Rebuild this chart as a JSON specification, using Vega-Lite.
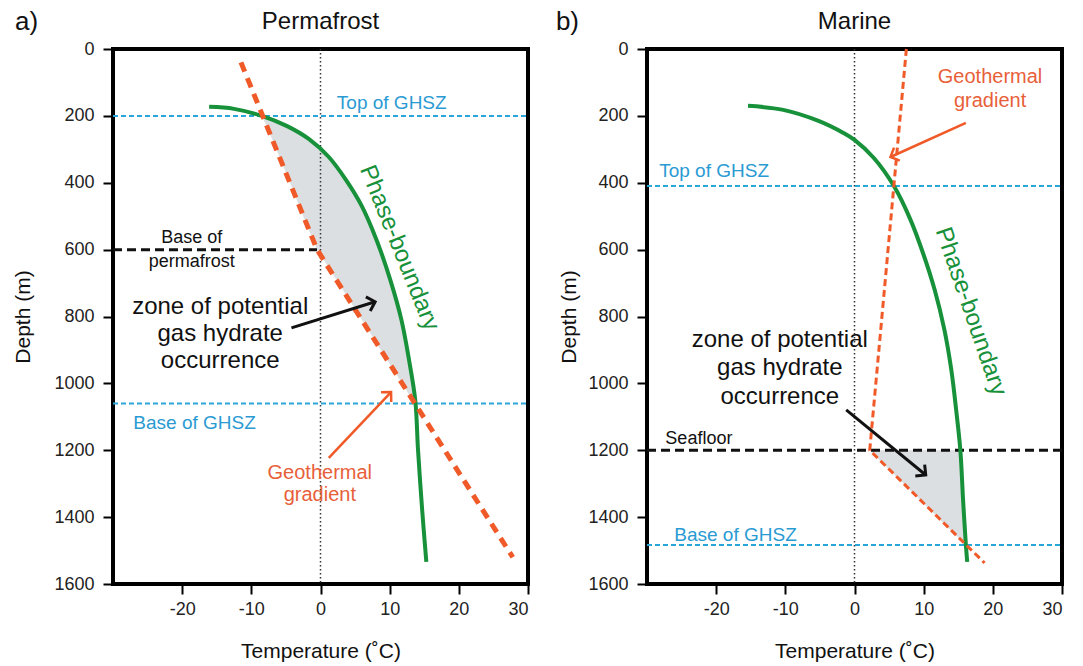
{
  "$schema": "https://vega.github.io/schema/vega-lite/v6.json",
  "padding": {"left": 10, "top": 6, "right": 8, "bottom": 2},
  "config": {
    "font": "Liberation Sans",
    "view": {"stroke": "black", "strokeWidth": 4},
    "axis": {"domain": false, "grid": false, "ticks": true, "tickColor": "black", "tickWidth": 2, "tickSize": 10, "labelFontSize": 18, "labelColor": "#222", "titleFontSize": 21, "titleFontWeight": "normal", "titleColor": "#111", "labelFont": "Liberation Sans", "titleFont": "Liberation Sans"},
    "concat": {"spacing": 22}
  },
  "hconcat": [
    {
      "width": 415, "height": 535,
      "encoding": {
        "x": {"field": "t", "type": "quantitative", "scale": {"domain": [-30, 30], "nice": false, "zero": false}, "axis": {"title": "Temperature (˚C)", "values": [-20, -10, 0, 10, 20, 30], "labelExpr": "datum.value < 0 ? '-' + abs(datum.value) : '' + datum.value", "labelPadding": 6, "titlePadding": 22}},
        "y": {"field": "d", "type": "quantitative", "scale": {"domain": [0, 1600], "reverse": true, "nice": false, "zero": false}, "axis": {"title": "Depth (m)", "format": "d", "values": [0, 200, 400, 600, 800, 1000, 1200, 1400, 1600], "labelPadding": 9, "titlePadding": 20}}
      },
      "layer": [
        {"data": {"values": [
          {"d": 200, "t": -8.5, "t2": -8.5},
          {"d": 225, "t": -7.9, "t2": -5.5},
          {"d": 250, "t": -7.4, "t2": -3.3},
          {"d": 300, "t": -6.4, "t2": 0.0},
          {"d": 400, "t": -4.4, "t2": 3.9},
          {"d": 500, "t": -2.5, "t2": 6.6},
          {"d": 600, "t": -0.5, "t2": 8.6},
          {"d": 700, "t": 2.6, "t2": 10.2},
          {"d": 800, "t": 5.7, "t2": 11.6},
          {"d": 900, "t": 8.7, "t2": 12.5},
          {"d": 1000, "t": 11.8, "t2": 13.3},
          {"d": 1060, "t": 13.6, "t2": 13.7}
        ]},
         "mark": {"type": "area", "orient": "horizontal", "color": "#dcdfe2"},
         "encoding": {"x2": {"field": "t2"}}},
        {"data": {"values": [{"t": 0, "d": 0, "d2": 1600}]},
         "mark": {"type": "rule", "strokeDash": [1.5, 2.5], "strokeWidth": 1.5, "color": "#333"},
         "encoding": {"y2": {"field": "d2"}}},
        {"data": {"values": [{"t": -30, "t2": 30, "d": 200}, {"t": -30, "t2": 30, "d": 1060}]},
         "mark": {"type": "rule", "color": "#2aa6d9", "strokeWidth": 2, "strokeDash": [5, 3]},
         "encoding": {"x2": {"field": "t2"}}},
        {"data": {"values": [{"t": -30, "t2": -0.5, "d": 600}]},
         "mark": {"type": "rule", "color": "#111", "strokeWidth": 3, "strokeDash": [9, 5]},
         "encoding": {"x2": {"field": "t2"}}},
        {"data": {"values": [
          {"t": -16.1, "d": 173}, {"t": -12.5, "d": 179}, {"t": -8.5, "d": 200}, {"t": -4.9, "d": 230},
          {"t": -1.7, "d": 269}, {"t": 1.2, "d": 323}, {"t": 3.7, "d": 392}, {"t": 5.9, "d": 467},
          {"t": 8.1, "d": 571}, {"t": 10.1, "d": 691}, {"t": 11.7, "d": 810}, {"t": 12.8, "d": 930},
          {"t": 13.7, "d": 1050}, {"t": 14.1, "d": 1199}, {"t": 14.7, "d": 1379}, {"t": 15.3, "d": 1534}
        ]},
         "mark": {"type": "line", "color": "#17913a", "strokeWidth": 4, "interpolate": "catmull-rom"},
         "encoding": {"order": {"field": "d"}}},
        {"data": {"values": [{"t": -11.5, "d": 40}, {"t": -0.5, "d": 600}, {"t": 27.8, "d": 1520}]},
         "mark": {"type": "line", "color": "#f05a28", "strokeWidth": 5, "strokeDash": [10, 7]},
         "encoding": {"order": {"field": "d"}}},
        {"data": {"values": [{"t": -4.2, "d": 834, "t2": 7.9, "d2": 756}]},
         "mark": {"type": "rule", "color": "#111", "strokeWidth": 3},
         "encoding": {"x2": {"field": "t2"}, "y2": {"field": "d2"}}},
        {"data": {"values": [{"t": 7.9, "d": 756}]},
         "mark": {"type": "point", "shape": "M-1,-1L0,0L-1,1", "size": 220, "filled": false, "stroke": "#111", "strokeWidth": 3, "angle": 343, "opacity": 1}},
        {"data": {"values": [{"t": 1.2, "d": 1223, "t2": 10.2, "d2": 1026}]},
         "mark": {"type": "rule", "color": "#f05a28", "strokeWidth": 2.5},
         "encoding": {"x2": {"field": "t2"}, "y2": {"field": "d2"}}},
        {"data": {"values": [{"t": 10.2, "d": 1026}]},
         "mark": {"type": "point", "shape": "M-1,-1L0,0L-1,1", "size": 200, "filled": false, "stroke": "#f05a28", "strokeWidth": 2.5, "angle": 314, "opacity": 1}},
        {"data": {"values": [{"t": 10.3, "d": 160, "label": "Top of GHSZ"}, {"t": -18.2, "d": 1118, "label": "Base of GHSZ"}]},
         "mark": {"type": "text", "fontSize": 19, "color": "#2a9ad3"},
         "encoding": {"text": {"field": "label"}}},
        {"data": {"values": [{"t": -18.6, "d": 565, "label": "Base of"}, {"t": -18.6, "d": 637, "label": "permafrost"}]},
         "mark": {"type": "text", "fontSize": 18, "color": "#111"},
         "encoding": {"text": {"field": "label"}}},
        {"data": {"values": [{"t": -14.5, "d": 772, "label": "zone of potential"}, {"t": -14.5, "d": 852, "label": "gas hydrate"}, {"t": -14.5, "d": 932, "label": "occurrence"}]},
         "mark": {"type": "text", "fontSize": 24, "color": "#111"},
         "encoding": {"text": {"field": "label"}}},
        {"data": {"values": [{"t": -0.1, "d": 1268, "label": "Geothermal"}, {"t": -0.1, "d": 1334, "label": "gradient"}]},
         "mark": {"type": "text", "fontSize": 20, "color": "#e8603a"},
         "encoding": {"text": {"field": "label"}}},
        {"data": {"values": [{"t": 11.4, "d": 595, "label": "Phase-boundary"}]},
         "mark": {"type": "text", "fontSize": 24, "color": "#17913a", "angle": 68},
         "encoding": {"text": {"field": "label"}}},
        {"data": {"values": [{"t": 0, "d": -81, "label": "Permafrost"}]},
         "mark": {"type": "text", "fontSize": 24, "color": "#111"},
         "encoding": {"text": {"field": "label"}}},
        {"data": {"values": [{"t": -42.5, "d": -81, "label": "a)"}]},
         "mark": {"type": "text", "fontSize": 26, "color": "#111"},
         "encoding": {"text": {"field": "label"}}}
      ]
    },
    {
      "width": 415, "height": 535,
      "encoding": {
        "x": {"field": "t", "type": "quantitative", "scale": {"domain": [-30, 30], "nice": false, "zero": false}, "axis": {"title": "Temperature (˚C)", "values": [-20, -10, 0, 10, 20, 30], "labelExpr": "datum.value < 0 ? '-' + abs(datum.value) : '' + datum.value", "labelPadding": 6, "titlePadding": 22}},
        "y": {"field": "d", "type": "quantitative", "scale": {"domain": [0, 1600], "reverse": true, "nice": false, "zero": false}, "axis": {"title": "Depth (m)", "format": "d", "values": [0, 200, 400, 600, 800, 1000, 1200, 1400, 1600], "labelPadding": 9, "titlePadding": 8}}
      },
      "layer": [
        {"data": {"values": [
          {"d": 1200, "t": 2.2, "t2": 15.4},
          {"d": 1300, "t": 7.1, "t2": 15.7},
          {"d": 1400, "t": 12.0, "t2": 15.9},
          {"d": 1483, "t": 16.1, "t2": 16.1}
        ]},
         "mark": {"type": "area", "orient": "horizontal", "color": "#dcdfe2"},
         "encoding": {"x2": {"field": "t2"}}},
        {"data": {"values": [{"t": 0, "d": 0, "d2": 1600}]},
         "mark": {"type": "rule", "strokeDash": [1.5, 2.5], "strokeWidth": 1.5, "color": "#333"},
         "encoding": {"y2": {"field": "d2"}}},
        {"data": {"values": [{"t": -30, "t2": 30, "d": 410}, {"t": -30, "t2": 30, "d": 1483}]},
         "mark": {"type": "rule", "color": "#2aa6d9", "strokeWidth": 2, "strokeDash": [5, 3]},
         "encoding": {"x2": {"field": "t2"}}},
        {"data": {"values": [{"t": -30, "t2": 30, "d": 1200}]},
         "mark": {"type": "rule", "color": "#111", "strokeWidth": 3, "strokeDash": [9, 5]},
         "encoding": {"x2": {"field": "t2"}}},
        {"data": {"values": [
          {"t": -15.4, "d": 170}, {"t": -10.3, "d": 182}, {"t": -5.2, "d": 215}, {"t": -1.6, "d": 251},
          {"t": 0.0, "d": 272}, {"t": 2.8, "d": 326}, {"t": 5.7, "d": 410}, {"t": 8.1, "d": 511},
          {"t": 10.0, "d": 616}, {"t": 11.6, "d": 721}, {"t": 13.0, "d": 840}, {"t": 14.0, "d": 960},
          {"t": 14.7, "d": 1080}, {"t": 15.3, "d": 1199}, {"t": 15.7, "d": 1349}, {"t": 16.1, "d": 1483},
          {"t": 16.3, "d": 1534}
        ]},
         "mark": {"type": "line", "color": "#17913a", "strokeWidth": 4, "interpolate": "catmull-rom"},
         "encoding": {"order": {"field": "d"}}},
        {"data": {"values": [{"t": 7.5, "d": 0}, {"t": 2.2, "d": 1200}, {"t": 18.8, "d": 1537}]},
         "mark": {"type": "line", "color": "#f05a28", "strokeWidth": 3, "strokeDash": [7, 4]},
         "encoding": {"order": {"field": "d"}}},
        {"data": {"values": [{"t": -1.2, "d": 1079, "t2": 10.3, "d2": 1274}]},
         "mark": {"type": "rule", "color": "#111", "strokeWidth": 3},
         "encoding": {"x2": {"field": "t2"}, "y2": {"field": "d2"}}},
        {"data": {"values": [{"t": 10.3, "d": 1274}]},
         "mark": {"type": "point", "shape": "M-1,-1L0,0L-1,1", "size": 220, "filled": false, "stroke": "#111", "strokeWidth": 3, "angle": 39, "opacity": 1}},
        {"data": {"values": [{"t": 16.1, "d": 221, "t2": 5.2, "d2": 323}]},
         "mark": {"type": "rule", "color": "#f05a28", "strokeWidth": 2.5},
         "encoding": {"x2": {"field": "t2"}, "y2": {"field": "d2"}}},
        {"data": {"values": [{"t": 5.2, "d": 323}]},
         "mark": {"type": "point", "shape": "M-1,-1L0,0L-1,1", "size": 200, "filled": false, "stroke": "#f05a28", "strokeWidth": 2.5, "angle": 156, "opacity": 1}},
        {"data": {"values": [{"t": -20.3, "d": 366, "label": "Top of GHSZ"}, {"t": -17.2, "d": 1452, "label": "Base of GHSZ"}]},
         "mark": {"type": "text", "fontSize": 19, "color": "#2a9ad3"},
         "encoding": {"text": {"field": "label"}}},
        {"data": {"values": [{"t": -22.5, "d": 1165, "label": "Seafloor"}]},
         "mark": {"type": "text", "fontSize": 18, "color": "#111"},
         "encoding": {"text": {"field": "label"}}},
        {"data": {"values": [{"t": -10.8, "d": 870, "label": "zone of potential"}, {"t": -10.8, "d": 955, "label": "gas hydrate"}, {"t": -10.8, "d": 1040, "label": "occurrence"}]},
         "mark": {"type": "text", "fontSize": 24, "color": "#111"},
         "encoding": {"text": {"field": "label"}}},
        {"data": {"values": [{"t": 19.6, "d": 84, "label": "Geothermal"}, {"t": 19.6, "d": 155, "label": "gradient"}]},
         "mark": {"type": "text", "fontSize": 20, "color": "#e8603a"},
         "encoding": {"text": {"field": "label"}}},
        {"data": {"values": [{"t": 16.8, "d": 785, "label": "Phase-boundary"}]},
         "mark": {"type": "text", "fontSize": 24, "color": "#17913a", "angle": 71},
         "encoding": {"text": {"field": "label"}}},
        {"data": {"values": [{"t": 0, "d": -81, "label": "Marine"}]},
         "mark": {"type": "text", "fontSize": 24, "color": "#111"},
         "encoding": {"text": {"field": "label"}}},
        {"data": {"values": [{"t": -41.5, "d": -81, "label": "b)"}]},
         "mark": {"type": "text", "fontSize": 26, "color": "#111"},
         "encoding": {"text": {"field": "label"}}}
      ]
    }
  ]
}
